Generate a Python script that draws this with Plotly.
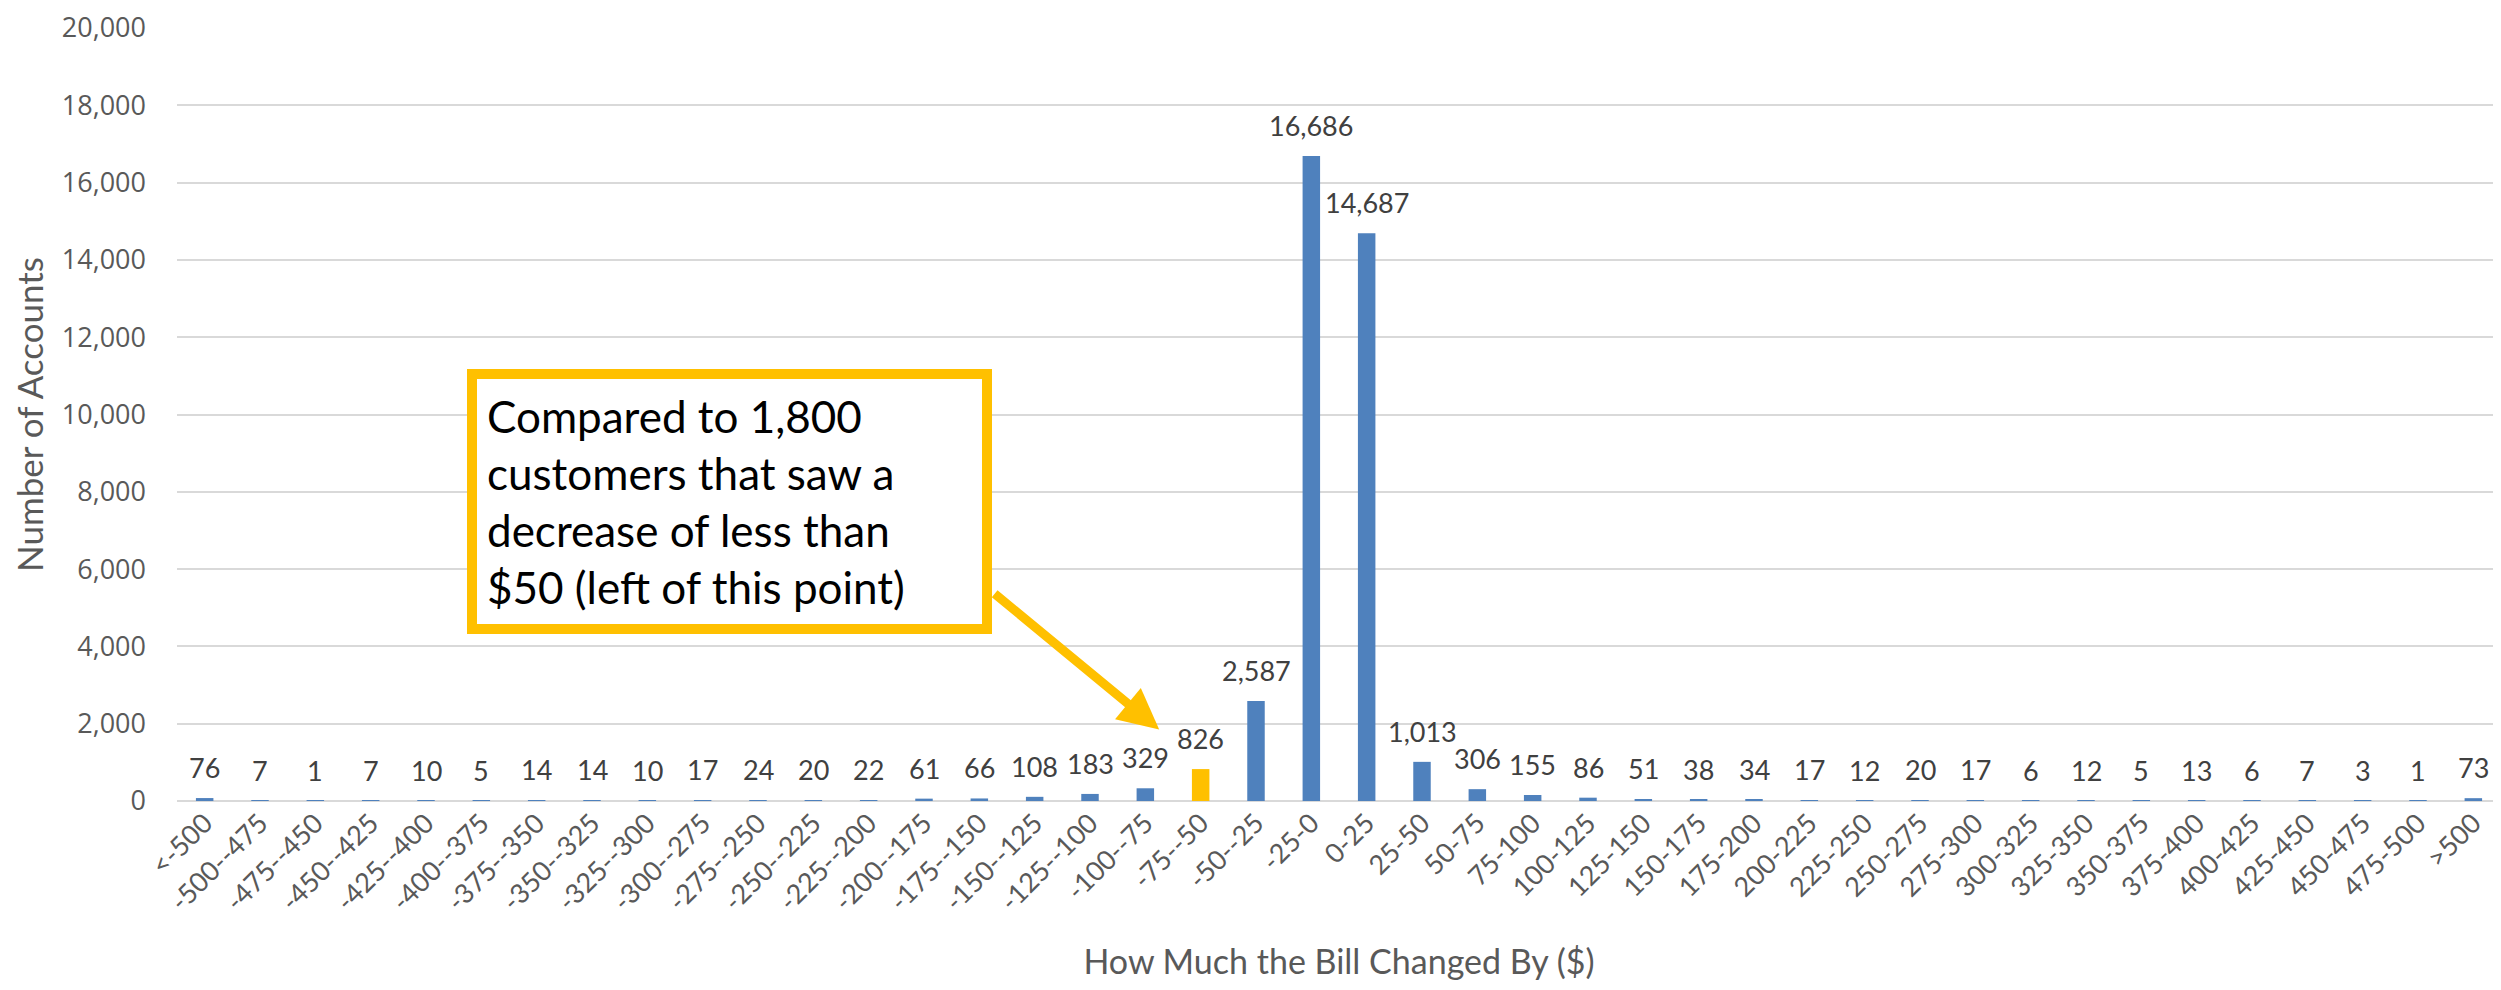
import plotly.graph_objects as go

bins = [
    "<-500", "-500--475", "-475--450", "-450--425", "-425--400", "-400--375",
    "-375--350", "-350--325", "-325--300", "-300--275", "-275--250", "-250--225",
    "-225--200", "-200--175", "-175--150", "-150--125", "-125--100", "-100--75",
    "-75--50", "-50--25", "-25-0", "0-25", "25-50", "50-75", "75-100", "100-125",
    "125-150", "150-175", "175-200", "200-225", "225-250", "250-275", "275-300",
    "300-325", "325-350", "350-375", "375-400", "400-425", "425-450", "450-475",
    "475-500", ">500",
]
accounts = [
    76, 7, 1, 7, 10, 5, 14, 14, 10, 17, 24, 20, 22, 61, 66, 108, 183, 329,
    826, 2587, 16686, 14687, 1013, 306, 155, 86, 51, 38, 34, 17, 12, 20, 17,
    6, 12, 5, 13, 6, 7, 3, 1, 73,
]
highlight = "-75--50"

BLUE = "#4F81BD"
GOLD = "#FFC000"
colors = [GOLD if b == highlight else BLUE for b in bins]

fig = go.Figure(go.Bar(x=bins, y=accounts, marker_color=colors, marker_line_width=0))

# data labels above each bar
for b, v in zip(bins, accounts):
    fig.add_annotation(x=b, y=v, text=f"{v:,}", showarrow=False, yanchor="bottom",
                       yshift=12, font=dict(family="Lato", size=27, color="#404040"))

# callout box
fig.add_annotation(
    xref="paper", yref="paper", x=0.1248, y=0.559, xanchor="left", yanchor="top",
    text="Compared to 1,800<br>customers that saw a<br>decrease of less than<br>$50 (left of this point)",
    showarrow=False, align="left", valign="middle", width=485, height=225,
    bgcolor="white", bordercolor=GOLD, borderwidth=10, borderpad=10,
    font=dict(family="Lato", size=44, color="black"),
)
# arrow to the highlighted bar
fig.add_annotation(
    x=17.25, y=1850, text="", showarrow=True, arrowhead=2, arrowsize=0.9,
    arrowwidth=9, arrowcolor=GOLD, ax=-166, ay=-137,
)

# page body keeps its default 8px margin, so the figure is 8px smaller
fig.update_layout(
    width=2493, height=982, paper_bgcolor="white", plot_bgcolor="white",
    margin=dict(l=169, r=0, t=13, b=189), bargap=0.684, showlegend=False,
    font=dict(family="Lato", color="#595959"),
)
fig.update_xaxes(
    type="category", range=[-0.5, 41.5], tickangle=-45, showgrid=False,
    showline=False, tickfont=dict(family="Lato", size=27, color="#595959"),
    title=dict(text="How Much the Bill Changed By ($)", standoff=34,
               font=dict(family="Lato", size=34, color="#595959")),
)
fig.update_yaxes(
    range=[0, 20000], dtick=2000, tickformat=",", gridcolor="#D9D9D9", gridwidth=2,
    zeroline=True, zerolinecolor="#D9D9D9", zerolinewidth=2, ticklabelstandoff=30,
    ticklabeloverflow="allow",
    tickfont=dict(family="Open Sans", size=27, color="#595959"),
    title=dict(text="Number of Accounts", standoff=14,
               font=dict(family="Lato", size=35, color="#595959")),
)

fig.write_html("out.html")
